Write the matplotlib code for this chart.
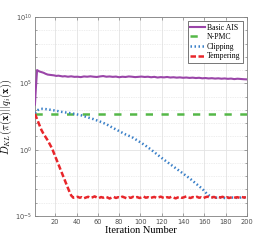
import numpy as np
import matplotlib
matplotlib.use("Agg")
import matplotlib.pyplot as plt
from matplotlib.ticker import NullFormatter, FixedLocator

# ---- data (log10 of KL divergence) ----
iter_ais = [1, 2, 3, 5, 7, 9, 11, 13, 15, 17, 19, 21, 23, 25, 27, 29, 32, 35, 38, 41,
            44, 47, 50, 53, 56, 59, 62, 65, 68, 71, 74, 77, 80, 83, 86, 89, 92, 95, 98, 101,
            104, 107, 110, 113, 116, 119, 122, 125, 128, 131, 134, 137, 140, 143, 146, 149, 152, 155, 158, 161,
            164, 167, 170, 173, 176, 179, 182, 185, 188, 191, 194, 197, 200]
log_ais = [3.4, 4.8, 6.0, 5.9, 5.85, 5.8, 5.72, 5.66, 5.64, 5.62, 5.6, 5.56, 5.58, 5.55, 5.52, 5.54, 5.5, 5.53, 5.49, 5.5,
           5.47, 5.52, 5.5, 5.53, 5.5, 5.48, 5.52, 5.55, 5.5, 5.52, 5.49, 5.51, 5.46, 5.5, 5.48, 5.52, 5.5, 5.47, 5.49, 5.51,
           5.48, 5.5, 5.46, 5.49, 5.44, 5.47, 5.45, 5.48, 5.44, 5.46, 5.43, 5.45, 5.42, 5.44, 5.41, 5.43, 5.4, 5.42, 5.38, 5.4,
           5.37, 5.39, 5.36, 5.38, 5.35, 5.37, 5.34, 5.36, 5.32, 5.35, 5.33, 5.31, 5.3]

iter_npmc = [1, 200]
log_npmc = [2.7, 2.7]

iter_clip = [1, 3, 5, 8, 12, 16, 20, 26, 32, 38, 44, 50, 56, 62, 68, 74, 80, 86, 92, 98,
             104, 110, 116, 122, 128, 134, 140, 146, 152, 158, 162, 166, 170, 175, 180, 185, 190, 195, 200]
log_clip = [2.75, 2.95, 3.05, 3.08, 3.05, 3.0, 2.95, 2.85, 2.78, 2.7, 2.6, 2.45, 2.3, 2.12, 1.92, 1.65, 1.4, 1.15, 0.95, 0.65,
            0.35, 0.0, -0.38, -0.75, -1.1, -1.45, -1.8, -2.15, -2.55, -2.95, -3.3, -3.55, -3.62, -3.6, -3.65, -3.6, -3.63, -3.6, -3.62]

iter_temp = [1, 3, 5, 7, 9, 11, 13, 15, 17, 19, 21, 23, 25, 27, 29, 31, 33, 35, 37,
             39, 41, 43, 45, 47, 49, 51, 53, 55, 57,
             59, 61, 63, 65, 67, 69, 71, 73, 75, 77,
             79, 81, 83, 85, 87, 89, 91, 93, 95, 97,
             99, 101, 103, 105, 107, 109, 111, 113, 115, 117,
             119, 121, 123, 125, 127, 129, 131, 133, 135, 137,
             139, 141, 143, 145, 147, 149, 151, 153, 155, 157,
             159, 161, 163, 165, 167, 169, 171, 173, 175, 177,
             179, 181, 183, 185, 187, 189, 191, 193, 195, 197,
             199]
log_temp = [2.7, 2.3, 1.9, 1.5, 1.2, 0.95, 0.7, 0.4, 0.1, -0.3, -0.7, -1.1, -1.5, -1.9, -2.3, -2.7, -3.1, -3.45, -3.62,
            -3.6, -3.55, -3.62, -3.58, -3.66, -3.6, -3.55, -3.63, -3.59, -3.52,
            -3.6, -3.65, -3.57, -3.62, -3.55, -3.6, -3.68, -3.61, -3.56, -3.64,
            -3.58, -3.62, -3.54, -3.6, -3.66, -3.59, -3.63, -3.55, -3.61, -3.57,
            -3.64, -3.6, -3.53, -3.62, -3.58, -3.66, -3.6, -3.56, -3.63, -3.59,
            -3.54, -3.61, -3.65, -3.58, -3.62, -3.55, -3.6, -3.67, -3.6, -3.56,
            -3.63, -3.58, -3.52, -3.6, -3.64, -3.57, -3.61, -3.55, -3.62, -3.59,
            -3.65, -3.58, -3.54, -3.61, -3.6, -3.56, -3.63, -3.57, -3.6, -3.55,
            -3.62, -3.58, -3.64, -3.6, -3.56, -3.61, -3.58, -3.63, -3.57, -3.6,
            -3.59]

labels = ["Basic AIS", "N-PMC", "Clipping", "Tempering"]
xticks = [20, 40, 60, 80, 100, 120, 140, 160, 180, 200]

# ---- figure ----
plt.rcParams['mathtext.fontset'] = 'cm'
fig = plt.figure(figsize=(2.73, 2.43), dpi=100)
ax = fig.add_axes([0.128, 0.111, 0.777, 0.819])

c_ais = '#9A45A8'
c_npmc = '#55B848'
c_clip = '#3A80C8'
c_temp = '#E8262B'

ax.plot(iter_ais, 10.0 ** np.array(log_ais), color=c_ais, lw=1.5, label=labels[0], zorder=3)
ax.plot(iter_npmc, 10.0 ** np.array(log_npmc), color=c_npmc, lw=1.8, ls=(0, (2.9, 3.4)), label=labels[1], zorder=3)
ax.plot(iter_clip, 10.0 ** np.array(log_clip), color=c_clip, lw=1.8, ls=(0, (0.6, 1.0)), label=labels[2], zorder=3)
ax.plot(iter_temp, 10.0 ** np.array(log_temp), color=c_temp, lw=1.8, ls=(0, (2.2, 1.0)), label=labels[3], zorder=4)

ax.set_yscale('log')
ax.set_xlim(1, 200)
ax.set_ylim(1e-5, 1e10)
ax.xaxis.set_major_locator(FixedLocator(xticks))
ax.yaxis.set_major_locator(FixedLocator([1e-5, 1e0, 1e5, 1e10]))
ax.yaxis.set_minor_locator(FixedLocator([10.0 ** k for k in range(-5, 11)]))
ax.yaxis.set_minor_formatter(NullFormatter())

ax.grid(True, which='major', color='#e3e3e3', lw=0.6, ls='-', zorder=0)
ax.grid(True, which='minor', axis='y', color='#dddddd', lw=0.5, ls=(0, (1, 1.5)), zorder=0)

tick_col = '#4d4d4d'
ax.tick_params(axis='both', which='both', direction='in', top=True, right=True,
               colors='#808080', labelcolor=tick_col, labelsize=4.8, width=0.5, pad=2)
ax.tick_params(axis='both', which='major', length=2.5)
ax.tick_params(axis='both', which='minor', length=1.5)
for s in ax.spines.values():
    s.set_color('#808080')
    s.set_linewidth(0.6)

ax.set_xlabel('Iteration Number', family='Liberation Serif', fontsize=7.5, labelpad=1)
ax.set_ylabel(r'$D_{KL}(\pi(\mathbf{x})||q_i(\mathbf{x}))$', fontsize=7.5, labelpad=1)

leg = ax.legend(loc='upper right', prop={'family': 'Liberation Serif', 'size': 5.6},
                fancybox=False, edgecolor='#404040', framealpha=1, handlelength=1.9,
                handletextpad=0.3, borderpad=0.3, labelspacing=0.2,
                borderaxespad=0.55)
leg.get_frame().set_linewidth(0.5)

fig.savefig('out.png', dpi=100)
